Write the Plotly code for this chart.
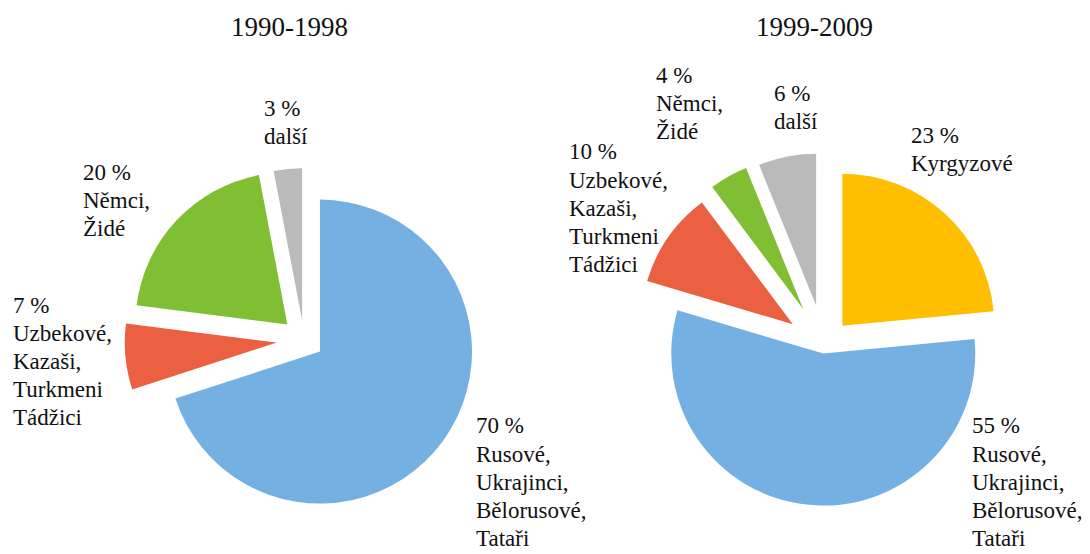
import plotly.graph_objects as go

# ---- data ----
titles = ["1990-1998", "1999-2009"]

groups_1 = ["Rusové, Ukrajinci, Bělorusové, Tataři", "Uzbekové, Kazaši, Turkmeni Tádžici", "Němci, Židé", "další"]
values_1 = [70, 7, 20, 3]
colors_1 = ["#74B0E2", "#EA6040", "#80BE34", "#BABABA"]
pull_1 = [0.13, 0.18, 0.15, 0.13]
labels_1 = [["70 %", "Rusové,", "Ukrajinci,", "Bělorusové,", "Tataři"],
            ["7 %", "Uzbekové,", "Kazaši,", "Turkmeni", "Tádžici"],
            ["20 %", "Němci,", "Židé"],
            ["3 %", "další"]]

groups_2 = ["Kyrgyzové", "Rusové, Ukrajinci, Bělorusové, Tataři", "Uzbekové, Kazaši, Turkmeni Tádžici", "Němci, Židé", "další"]
values_2 = [23, 55, 10, 4, 6]
colors_2 = ["#FFBE00", "#74B0E2", "#EA6040", "#80BE34", "#BABABA"]
pull_2 = [0.18, 0.05, 0.25, 0.28, 0.27]
labels_2 = [["23 %", "Kyrgyzové"],
            ["55 %", "Rusové,", "Ukrajinci,", "Bělorusové,", "Tataři"],
            ["10 %", "Uzbekové,", "Kazaši,", "Turkmeni", "Tádžici"],
            ["4 %", "Němci,", "Židé"],
            ["6 %", "další"]]

# ---- layout positions (page pixels, 1090x554 window; page body has an 8px margin) ----
OFF = 8
W, H = 1090 - OFF, 554 - OFF
FONT = "Liberation Serif"
LINE = 28.2

# (left x, centre y of first line) for each label
label_pos_1 = [(475, 426), (12, 305), (82, 172), (263, 108)]
label_pos_2 = [(910, 135), (971, 426), (568, 152), (655, 75), (773, 93)]
title_pos = [(289, 27), (814, 27)]


def px(x):
    return (x - OFF) / W


def py(y):
    return 1 - (y - OFF) / H


def domain(cx, cy, half):
    return dict(x=[px(cx - half), px(cx + half)], y=[py(cy + half), py(cy - half)])


R = 152
fig = go.Figure()
fig.add_trace(go.Pie(
    labels=groups_1, values=values_1, sort=False, direction="clockwise", rotation=0,
    marker=dict(colors=colors_1, line=dict(width=0)), pull=pull_1,
    textinfo="none", showlegend=False,
    domain=domain(304, 340, R * (1 + max(pull_1))),
))
fig.add_trace(go.Pie(
    labels=groups_2, values=values_2, sort=False, direction="clockwise", rotation=0,
    marker=dict(colors=colors_2, line=dict(width=0)), pull=pull_2,
    textinfo="none", showlegend=False,
    domain=domain(824, 346, R * (1 + max(pull_2))),
))

annotations = []
for (x, y), t in zip(title_pos, titles):
    annotations.append(dict(x=px(x), y=py(y), xref="paper", yref="paper", text=t,
                            showarrow=False, xanchor="center", yanchor="middle",
                            font=dict(family=FONT, size=27, color="#111111")))
for pos, labs in ((label_pos_1, labels_1), (label_pos_2, labels_2)):
    for (x, y0), lines in zip(pos, labs):
        for i, line in enumerate(lines):
            annotations.append(dict(x=px(x), y=py(y0 + i * LINE), xref="paper", yref="paper",
                                    text=line, showarrow=False, xanchor="left", yanchor="middle",
                                    align="left", borderpad=0,
                                    font=dict(family=FONT, size=23, color="#111111")))

fig.update_layout(
    width=W, height=H,
    margin=dict(l=0, r=0, t=0, b=0),
    paper_bgcolor="white", plot_bgcolor="white",
    annotations=annotations,
)

fig.write_html("out.html")
